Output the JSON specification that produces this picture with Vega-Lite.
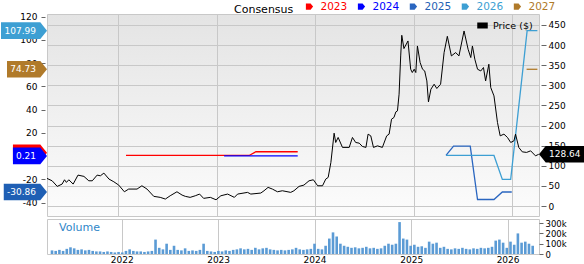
{
"$schema": "https://vega.github.io/schema/vega-lite/v6.json",
"padding": {"top": 1, "left": 0, "right": 0, "bottom": 0},
"background": "white",
"config": {"font": "DejaVu Sans", "view": {"stroke": "#c8c8c8"}, "axis": {"labelFontSize": 9, "labelColor": "#000", "tickColor": "#666", "gridColor": "#cccccc", "domain": false, "title": null}},
"datasets": {
"eps": [
{"s":"2023","d":"2022-01-30","e":0.6},{"s":"2023","d":"2023-05-02","e":0.6},{"s":"2023","d":"2023-05-27","e":3.8},{"s":"2023","d":"2023-10-29","e":3.8},
{"s":"2024","d":"2023-01-29","e":0.21},{"s":"2024","d":"2023-10-29","e":0.21},
{"s":"2025","d":"2025-05-01","e":0.6},{"s":"2025","d":"2025-05-29","e":8.6},{"s":"2025","d":"2025-07-30","e":8.6},{"s":"2025","d":"2025-08-26","e":-37.3},{"s":"2025","d":"2025-10-26","e":-37.3},{"s":"2025","d":"2025-11-26","e":-30.86},{"s":"2025","d":"2025-12-31","e":-30.86},
{"s":"2026","d":"2025-05-01","e":0.6},{"s":"2026","d":"2025-10-26","e":0.6},{"s":"2026","d":"2025-11-26","e":-20},{"s":"2026","d":"2025-12-27","e":-20},{"s":"2026","d":"2026-02-26","e":107.99},{"s":"2026","d":"2026-04-05","e":107.99},
{"s":"2027","d":"2026-02-24","e":74.73},{"s":"2027","d":"2026-04-05","e":74.73}
],
"flags": [
{"s":"2023","e":3.0,"t":""},{"s":"2024","e":0.21,"t":"0.21"},{"s":"2025","e":-30.86,"t":"-30.86"},{"s":"2026","e":107.99,"t":"107.99"},{"s":"2027","e":74.73,"t":"74.73"}
],
"last": [{"p":128.64,"t":"128.64"}],
"price": [
{"d":"2021-04-12","p":68.7},{"d":"2021-05-01","p":62.8},{"d":"2021-05-20","p":48.9},{"d":"2021-06-07","p":54.6},{"d":"2021-06-16","p":65.3},{"d":"2021-06-23","p":58.8},{"d":"2021-07-02","p":65.3},{"d":"2021-07-18","p":54.6},{"d":"2021-08-05","p":76.9},{"d":"2021-08-27","p":73.7},{"d":"2021-09-14","p":62.8},{"d":"2021-09-27","p":62.8},{"d":"2021-10-15","p":76.9},{"d":"2021-10-27","p":75.2},{"d":"2021-11-09","p":81.9},{"d":"2021-11-28","p":67},{"d":"2021-12-16","p":60.3},
{"d":"2022-01-03","p":52.1},{"d":"2022-01-24","p":35.5},{"d":"2022-02-09","p":42.2},{"d":"2022-03-12","p":42.2},{"d":"2022-03-30","p":50.4},{"d":"2022-04-18","p":42.2},{"d":"2022-05-13","p":24.1},{"d":"2022-06-06","p":21.6},{"d":"2022-06-25","p":17.4},{"d":"2022-07-13","p":25.6},{"d":"2022-08-07","p":35.5},{"d":"2022-08-26","p":27.3},{"d":"2022-09-07","p":24.1},{"d":"2022-09-25","p":21.6},{"d":"2022-10-14","p":25.6},{"d":"2022-10-30","p":29.8},{"d":"2022-11-14","p":19.1},{"d":"2022-12-09","p":21.6},{"d":"2022-12-30","p":15.6},
{"d":"2023-01-17","p":25.6},{"d":"2023-02-11","p":29.8},{"d":"2023-03-08","p":21.6},{"d":"2023-03-20","p":29.8},{"d":"2023-04-26","p":34},{"d":"2023-05-08","p":29.8},{"d":"2023-06-14","p":32.3},{"d":"2023-06-26","p":38},{"d":"2023-07-11","p":46.4},{"d":"2023-07-27","p":42.2},{"d":"2023-08-15","p":35.5},{"d":"2023-09-02","p":38},{"d":"2023-10-03","p":34},{"d":"2023-10-15","p":38},{"d":"2023-11-03","p":48.9},{"d":"2023-11-21","p":52.1},{"d":"2023-12-10","p":62.8},{"d":"2023-12-26","p":65.3},
{"d":"2024-01-11","p":50.4},{"d":"2024-01-29","p":50.4},{"d":"2024-02-10","p":67},{"d":"2024-02-19","p":71.2},{"d":"2024-02-29","p":108.4},{"d":"2024-03-12","p":181.1},{"d":"2024-03-18","p":158},{"d":"2024-03-27","p":170.5},{"d":"2024-04-12","p":145.7},{"d":"2024-05-07","p":145.7},{"d":"2024-05-19","p":170.5},{"d":"2024-05-31","p":158},{"d":"2024-06-13","p":156.3},{"d":"2024-06-25","p":148.1},{"d":"2024-07-08","p":145.7},{"d":"2024-07-16","p":178.7},{"d":"2024-07-26","p":174.4},{"d":"2024-08-05","p":145.7},{"d":"2024-08-20","p":149.6},{"d":"2024-09-07","p":145.7},{"d":"2024-09-23","p":174.4},{"d":"2024-10-02","p":178.7},{"d":"2024-10-11","p":215.9},{"d":"2024-10-20","p":220.1},{"d":"2024-10-27","p":234},{"d":"2024-11-02","p":236.5},{"d":"2024-11-08","p":277.9},{"d":"2024-11-14","p":373},{"d":"2024-11-18","p":424.3},{"d":"2024-11-26","p":391.3},{"d":"2024-12-11","p":410.2},{"d":"2024-12-21","p":340},{"d":"2024-12-27","p":331.8},
{"d":"2025-01-03","p":340},{"d":"2025-01-09","p":331.8},{"d":"2025-01-15","p":397.8},{"d":"2025-01-25","p":356.6},{"d":"2025-02-03","p":340},{"d":"2025-02-11","p":335.7},{"d":"2025-02-19","p":310.9},{"d":"2025-02-25","p":258.8},{"d":"2025-03-06","p":290.3},{"d":"2025-03-18","p":302.7},{"d":"2025-03-28","p":292.1},{"d":"2025-04-11","p":302.7},{"d":"2025-04-24","p":381.4},{"d":"2025-05-06","p":421.8},{"d":"2025-05-21","p":373},{"d":"2025-06-06","p":381.4},{"d":"2025-06-18","p":373},{"d":"2025-07-07","p":435},{"d":"2025-07-22","p":389.6},{"d":"2025-08-01","p":369},{"d":"2025-08-07","p":397.8},{"d":"2025-08-16","p":364.8},{"d":"2025-08-26","p":340},{"d":"2025-09-07","p":335.7},{"d":"2025-09-17","p":344.2},{"d":"2025-09-25","p":310.9},{"d":"2025-10-07","p":352.4},{"d":"2025-10-14","p":294.5},{"d":"2025-10-26","p":273.7},{"d":"2025-11-08","p":207.7},{"d":"2025-11-18","p":174.4},{"d":"2025-12-02","p":178.7},{"d":"2025-12-15","p":170.5},{"d":"2025-12-27","p":158},
{"d":"2026-01-08","p":162},{"d":"2026-01-14","p":178.7},{"d":"2026-01-26","p":145.7},{"d":"2026-02-08","p":134.7},{"d":"2026-02-24","p":133.3},{"d":"2026-03-11","p":137.2},{"d":"2026-03-29","p":124.8},{"d":"2026-04-10","p":128.64}
],
"vol": [
{"d":"2021-04-12","v":35000},{"d":"2021-04-26","v":30000},{"d":"2021-05-10","v":40000},{"d":"2021-05-24","v":30000},{"d":"2021-06-07","v":50000},{"d":"2021-06-21","v":65000},{"d":"2021-07-05","v":55000},{"d":"2021-07-19","v":40000},{"d":"2021-08-02","v":45000},{"d":"2021-08-16","v":35000},{"d":"2021-08-30","v":40000},{"d":"2021-09-13","v":30000},{"d":"2021-09-27","v":25000},{"d":"2021-10-11","v":25000},{"d":"2021-10-25","v":20000},{"d":"2021-11-08","v":25000},{"d":"2021-11-22","v":20000},{"d":"2021-12-06","v":15000},{"d":"2021-12-20","v":20000},
{"d":"2022-01-03","v":15000},{"d":"2022-01-17","v":30000},{"d":"2022-01-31","v":45000},{"d":"2022-02-14","v":30000},{"d":"2022-02-28","v":25000},{"d":"2022-03-14","v":25000},{"d":"2022-03-28","v":20000},{"d":"2022-04-11","v":25000},{"d":"2022-04-25","v":30000},{"d":"2022-05-09","v":140000},{"d":"2022-05-23","v":60000},{"d":"2022-06-06","v":45000},{"d":"2022-06-20","v":100000},{"d":"2022-07-04","v":40000},{"d":"2022-07-18","v":80000},{"d":"2022-08-01","v":40000},{"d":"2022-08-15","v":35000},{"d":"2022-08-29","v":55000},{"d":"2022-09-12","v":30000},{"d":"2022-09-26","v":35000},{"d":"2022-10-10","v":30000},{"d":"2022-10-24","v":40000},{"d":"2022-11-07","v":100000},{"d":"2022-11-21","v":30000},{"d":"2022-12-05","v":25000},{"d":"2022-12-19","v":20000},
{"d":"2023-01-02","v":30000},{"d":"2023-01-16","v":25000},{"d":"2023-01-30","v":35000},{"d":"2023-02-13","v":30000},{"d":"2023-02-27","v":40000},{"d":"2023-03-13","v":45000},{"d":"2023-03-27","v":55000},{"d":"2023-04-10","v":45000},{"d":"2023-04-24","v":50000},{"d":"2023-05-08","v":40000},{"d":"2023-05-22","v":60000},{"d":"2023-06-05","v":45000},{"d":"2023-06-19","v":55000},{"d":"2023-07-03","v":60000},{"d":"2023-07-17","v":45000},{"d":"2023-07-31","v":40000},{"d":"2023-08-14","v":35000},{"d":"2023-08-28","v":40000},{"d":"2023-09-11","v":35000},{"d":"2023-09-25","v":40000},{"d":"2023-10-09","v":45000},{"d":"2023-10-23","v":60000},{"d":"2023-11-06","v":45000},{"d":"2023-11-20","v":40000},{"d":"2023-12-04","v":45000},{"d":"2023-12-18","v":50000},
{"d":"2024-01-01","v":100000},{"d":"2024-01-15","v":50000},{"d":"2024-01-29","v":45000},{"d":"2024-02-12","v":80000},{"d":"2024-02-26","v":150000},{"d":"2024-03-11","v":210000},{"d":"2024-03-25","v":170000},{"d":"2024-04-08","v":100000},{"d":"2024-04-22","v":80000},{"d":"2024-05-06","v":70000},{"d":"2024-05-20","v":60000},{"d":"2024-06-03","v":65000},{"d":"2024-06-17","v":55000},{"d":"2024-07-01","v":60000},{"d":"2024-07-15","v":70000},{"d":"2024-07-29","v":55000},{"d":"2024-08-12","v":60000},{"d":"2024-08-26","v":50000},{"d":"2024-09-09","v":55000},{"d":"2024-09-23","v":80000},{"d":"2024-10-07","v":100000},{"d":"2024-10-21","v":90000},{"d":"2024-11-04","v":100000},{"d":"2024-11-18","v":310000},{"d":"2024-12-02","v":150000},{"d":"2024-12-16","v":140000},{"d":"2024-12-30","v":80000},
{"d":"2025-01-13","v":90000},{"d":"2025-01-27","v":70000},{"d":"2025-02-10","v":75000},{"d":"2025-02-24","v":60000},{"d":"2025-03-10","v":120000},{"d":"2025-03-24","v":100000},{"d":"2025-04-07","v":110000},{"d":"2025-04-21","v":60000},{"d":"2025-05-05","v":70000},{"d":"2025-05-19","v":50000},{"d":"2025-06-02","v":45000},{"d":"2025-06-16","v":55000},{"d":"2025-06-30","v":50000},{"d":"2025-07-14","v":60000},{"d":"2025-07-28","v":50000},{"d":"2025-08-11","v":45000},{"d":"2025-08-25","v":55000},{"d":"2025-09-08","v":50000},{"d":"2025-09-22","v":60000},{"d":"2025-10-06","v":55000},{"d":"2025-10-20","v":60000},{"d":"2025-11-03","v":70000},{"d":"2025-11-17","v":130000},{"d":"2025-12-01","v":140000},{"d":"2025-12-15","v":110000},{"d":"2025-12-29","v":60000},
{"d":"2026-01-12","v":120000},{"d":"2026-01-26","v":90000},{"d":"2026-02-09","v":200000},{"d":"2026-02-23","v":110000},{"d":"2026-03-09","v":120000},{"d":"2026-03-23","v":100000},{"d":"2026-04-06","v":80000}
]
},
"spacing": 1,
"vconcat": [
{
"width": 492, "height": 202,
"view": {"stroke": "#c8c8c8", "fill": {"gradient": "linear", "x1": 0, "y1": 0, "x2": 0, "y2": 1, "stops": [{"offset": 0, "color": "#e4e4e4"}, {"offset": 1, "color": "#fcfcfc"}]}},
"resolve": {"scale": {"y": "independent"}},
"layer": [
{"layer": [
{"data": {"name": "eps"},
 "mark": {"type": "line", "strokeWidth": 1.3},
 "encoding": {
  "x": {"field": "d", "type": "temporal", "scale": {"domain": [{"year": 2021, "month": 4, "date": 12}, {"year": 2026, "month": 4, "date": 11}]}, "axis": {"grid": true, "labels": false, "ticks": false, "domain": false, "title": null, "gridColor": "#c8c8c8", "values": [{"year": 2022, "month": 1, "date": 1}, {"year": 2023, "month": 1, "date": 1}, {"year": 2024, "month": 1, "date": 1}, {"year": 2025, "month": 1, "date": 1}, {"year": 2026, "month": 1, "date": 1}]}},
  "y": {"field": "e", "type": "quantitative", "scale": {"domain": [-51.5, 122.3], "nice": false, "zero": false}, "axis": {"orient": "left", "values": [-40, -20, 0, 20, 40, 60, 80, 100, 120], "labelExpr": "'' + datum.value", "labelOverlap": {"expr": "false"}, "grid": false, "offset": 2, "tickSize": 4, "labelPadding": 4, "title": null}},
  "color": {"field": "s", "type": "nominal", "scale": {"domain": ["2023", "2024", "2025", "2026", "2027"], "range": ["#ff0000", "#0000ff", "#2a66c0", "#3d9fd3", "#b07a2a"]},
   "legend": {"orient": "none", "legendX": 187, "legendY": -13, "direction": "horizontal", "title": "Consensus", "titleOrient": "left", "titleFontSize": 11, "titleFontWeight": "normal", "titleColor": "black", "titlePadding": 10, "labelFontSize": 10.5, "labelOffset": 6, "columnPadding": 0, "symbolType": "square", "symbolSize": 1, "symbolStrokeWidth": 6, "symbolOpacity": 1, "padding": 0,
    "symbolFillColor": {"expr": "datum.value=='2023'?'#ff0000':datum.value=='2024'?'#0000ff':datum.value=='2025'?'#1f5fb4':datum.value=='2026'?'#3d9fd3':'#b07a2a'"},
    "labelColor": {"expr": "datum.value=='2023'?'#ff0000':datum.value=='2024'?'#0000ff':datum.value=='2025'?'#1f5fb4':datum.value=='2026'?'#3d9fd3':'#b07a2a'"}}}
 }},
{"data": {"name": "flags"},
 "mark": {"type": "point", "filled": true, "opacity": 1, "size": 8464, "strokeWidth": 0},
 "encoding": {
  "x": {"datum": {"year": 2021, "month": 4, "date": 12}, "type": "temporal"},
  "y": {"field": "e", "type": "quantitative", "axis": {"orient": "left", "values": [-40, -20, 0, 20, 40, 60, 80, 100, 120], "labelExpr": "'' + datum.value", "labelOverlap": {"expr": "false"}, "grid": false, "offset": 2, "tickSize": 4, "labelPadding": 4, "title": null}},
  "fill": {"field": "s", "type": "nominal", "legend": null, "scale": {"domain": ["2023", "2024", "2025", "2026", "2027"], "range": ["#ff0000", "#0000ff", "#1f5fb4", "#3d9fd3", "#b07a2a"]}},
  "shape": {"field": "s", "type": "nominal", "legend": null, "scale": {"domain": ["2023", "2024", "2025", "2026", "2027"], "range": [
   "M0,0L-0.146,-0.18L-0.74,-0.18L-0.74,0.18L-0.146,0.18Z",
   "M0,0L-0.146,-0.18L-0.74,-0.18L-0.74,0.18L-0.146,0.18Z",
   "M0,0L-0.146,-0.18L-0.94,-0.18L-0.94,0.18L-0.146,0.18Z",
   "M0,0L-0.146,-0.18L-1,-0.18L-1,0.18L-0.146,0.18Z",
   "M0,0L-0.146,-0.18L-0.87,-0.18L-0.87,0.18L-0.146,0.18Z"]}}
 }},
{"data": {"name": "flags"},
 "transform": [{"filter": "datum.s != '2023'"}],
 "mark": {"type": "text", "align": "right", "baseline": "middle", "dx": -11, "fontSize": 9, "fill": "white"},
 "encoding": {
  "x": {"datum": {"year": 2021, "month": 4, "date": 12}, "type": "temporal"},
  "y": {"field": "e", "type": "quantitative", "axis": {"orient": "left", "values": [-40, -20, 0, 20, 40, 60, 80, 100, 120], "labelExpr": "'' + datum.value", "labelOverlap": {"expr": "false"}, "grid": false, "offset": 2, "tickSize": 4, "labelPadding": 4, "title": null}},
  "text": {"field": "t"}
 }}
]},
{"layer": [
{"data": {"name": "price"},
 "mark": {"type": "line", "strokeWidth": 1},
 "encoding": {
  "x": {"field": "d", "type": "temporal"},
  "y": {"field": "p", "type": "quantitative", "scale": {"domain": [-24.7, 477.2], "nice": false, "zero": false}, "axis": {"orient": "right", "values": [0, 50, 100, 150, 200, 250, 300, 350, 400, 450], "labelOverlap": {"expr": "false"}, "grid": true, "gridColor": "#c8c8c8", "offset": 2, "tickSize": 5, "labelPadding": 2, "title": null}},
  "stroke": {"datum": "Price ($)", "type": "nominal", "scale": {"range": ["black"]},
   "legend": {"orient": "none", "legendX": 430, "legendY": 6, "title": null, "symbolType": "M-1,-0.5H1V0.5H-1Z", "symbolSize": 81, "labelFontSize": 9.5, "labelOffset": 5, "padding": 0, "symbolFillColor": "black"}}
 }},
{"data": {"name": "last"},
 "mark": {"type": "point", "filled": true, "opacity": 1, "size": 8464, "strokeWidth": 0, "fill": "black", "shape": "M0,0L0.146,-0.18L0.98,-0.18L0.98,0.18L0.146,0.18Z"},
 "encoding": {
  "x": {"datum": {"year": 2026, "month": 4, "date": 11}, "type": "temporal"},
  "y": {"field": "p", "type": "quantitative", "axis": {"orient": "right", "values": [0, 50, 100, 150, 200, 250, 300, 350, 400, 450], "labelOverlap": {"expr": "false"}, "grid": true, "gridColor": "#c8c8c8", "offset": 2, "tickSize": 5, "labelPadding": 2, "title": null}}
 }},
{"data": {"name": "last"},
 "mark": {"type": "text", "align": "left", "baseline": "middle", "dx": 10, "fontSize": 9, "fill": "white"},
 "encoding": {
  "x": {"datum": {"year": 2026, "month": 4, "date": 11}, "type": "temporal"},
  "y": {"field": "p", "type": "quantitative", "axis": {"orient": "right", "values": [0, 50, 100, 150, 200, 250, 300, 350, 400, 450], "labelOverlap": {"expr": "false"}, "grid": true, "gridColor": "#c8c8c8", "offset": 2, "tickSize": 5, "labelPadding": 2, "title": null}},
  "text": {"field": "t"}
 }}
]}
]
},
{
"width": 492, "height": 35,
"view": {"stroke": "#c8c8c8", "fill": "white"},
"layer": [
{"data": {"name": "vol"},
 "mark": {"type": "bar", "width": 2.6, "color": "#5b9bd5"},
 "encoding": {
  "x": {"field": "d", "type": "temporal", "scale": {"domain": [{"year": 2021, "month": 4, "date": 12}, {"year": 2026, "month": 4, "date": 11}]}, "axis": {"format": "%Y", "grid": true, "gridColor": "#c8c8c8", "ticks": false, "domain": false, "labelPadding": 1, "title": null, "values": [{"year": 2022, "month": 1, "date": 1}, {"year": 2023, "month": 1, "date": 1}, {"year": 2024, "month": 1, "date": 1}, {"year": 2025, "month": 1, "date": 1}, {"year": 2026, "month": 1, "date": 1}]}},
  "y": {"field": "v", "type": "quantitative", "scale": {"domain": [0, 340000], "nice": false}, "axis": {"orient": "right", "values": [0, 100000, 200000, 300000], "labelExpr": "datum.value == 0 ? '0' : (datum.value / 1000) + 'k'", "labelOverlap": {"expr": "false"}, "grid": false, "tickSize": 4, "labelPadding": 2, "labelFontSize": 8.5, "title": null}}
 }},
{"data": {"values": [{"label": "Volume"}]},
 "mark": {"type": "text", "align": "left", "baseline": "middle", "dx": 7, "fontSize": 11, "fill": "#2f86c8"},
 "encoding": {
  "x": {"datum": {"year": 2021, "month": 4, "date": 12}, "type": "temporal"},
  "y": {"datum": 250000, "type": "quantitative", "axis": {"orient": "right", "values": [0, 100000, 200000, 300000], "labelExpr": "datum.value == 0 ? '0' : (datum.value / 1000) + 'k'", "labelOverlap": {"expr": "false"}, "grid": false, "tickSize": 4, "labelPadding": 2, "labelFontSize": 8.5, "title": null}},
  "text": {"field": "label"}
 }}
]
}
]
}
